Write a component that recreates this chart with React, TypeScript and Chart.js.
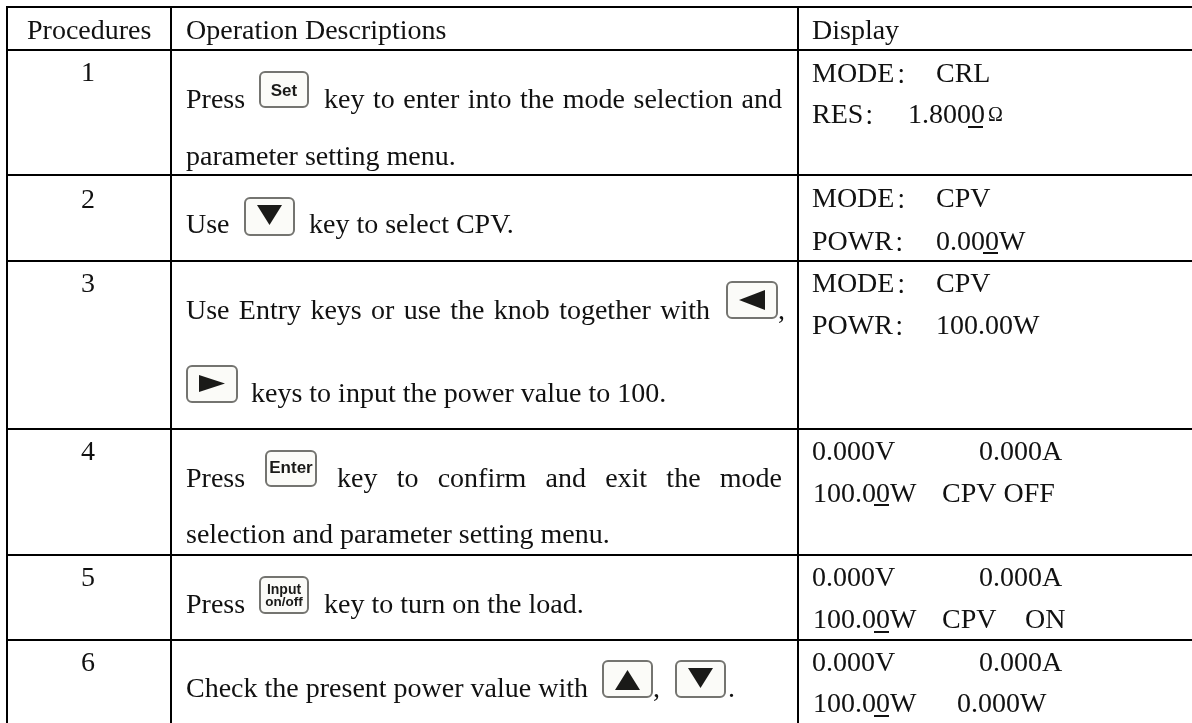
import React, { useEffect, useRef } from "react";
import { Chart, registerables } from "chart.js";

Chart.register(...registerables);

const columnEdges = [7, 171, 798];
const rowEdges = [7, 50, 175, 261, 429, 555, 640];

const SERIF = '"Liberation Serif", "Noto Sans CJK SC", serif';
const SANS = '"Liberation Sans", sans-serif';
const FONT_SIZE = 28;
const COLON_SIZE = 21;

const headers = ["Procedures", "Operation Descriptions", "Display"];
const procedureNumbers = ["1", "2", "3", "4", "5", "6"];
const numberBaselines = [81, 208, 292, 460, 586, 671];

type Run = { t: string; x: number; y: number; right?: number; size?: number; font?: string };

const descriptionRuns: Run[] = [
  { t: "Press", x: 186, y: 108 },
  { t: "key to enter into the mode selection and", x: 324, y: 108, right: 782 },
  { t: "parameter setting menu.", x: 186, y: 164.5 },
  { t: "Use", x: 186, y: 233 },
  { t: "key to select CPV.", x: 309, y: 233 },
  { t: "Use Entry keys or use the knob together with", x: 186, y: 319, right: 710 },
  { t: ",", x: 778, y: 319 },
  { t: "keys to input the power value to 100.", x: 251, y: 402 },
  { t: "Press", x: 186, y: 487 },
  { t: "key to confirm and exit the mode", x: 337, y: 487, right: 782 },
  { t: "selection and parameter setting menu.", x: 186, y: 543 },
  { t: "Press", x: 186, y: 613 },
  { t: "key to turn on the load.", x: 324, y: 613 },
  { t: "Check the present power value with", x: 186, y: 697 },
  { t: ",", x: 653, y: 697 },
  { t: ".", x: 728, y: 697 },
];

const displayRuns: Run[] = [
  { t: "MODE", x: 812, y: 82 },
  { t: "：", x: 896, y: 82, size: COLON_SIZE },
  { t: "CRL", x: 936, y: 82 },
  { t: "RES", x: 812, y: 123 },
  { t: "：", x: 864, y: 123, size: COLON_SIZE },
  { t: "1.8000", x: 908, y: 123 },
  { t: "Ω", x: 988, y: 121, size: 20 },
  { t: "MODE", x: 812, y: 207 },
  { t: "：", x: 896, y: 207, size: COLON_SIZE },
  { t: "CPV", x: 936, y: 207 },
  { t: "POWR", x: 812, y: 250 },
  { t: "：", x: 894, y: 250, size: COLON_SIZE },
  { t: "0.000W", x: 936, y: 250 },
  { t: "MODE", x: 812, y: 292 },
  { t: "：", x: 896, y: 292, size: COLON_SIZE },
  { t: "CPV", x: 936, y: 292 },
  { t: "POWR", x: 812, y: 334 },
  { t: "：", x: 894, y: 334, size: COLON_SIZE },
  { t: "100.00W", x: 936, y: 334 },
  { t: "0.000V", x: 812, y: 460 },
  { t: "0.000A", x: 979, y: 460 },
  { t: "100.00W", x: 813, y: 502 },
  { t: "CPV OFF", x: 942, y: 502 },
  { t: "0.000V", x: 812, y: 586 },
  { t: "0.000A", x: 979, y: 586 },
  { t: "100.00W", x: 813, y: 628 },
  { t: "CPV", x: 942, y: 628 },
  { t: "ON", x: 1025, y: 628 },
  { t: "0.000V", x: 812, y: 671 },
  { t: "0.000A", x: 979, y: 671 },
  { t: "100.00W", x: 813, y: 712 },
  { t: "0.000W", x: 957, y: 712 },
];

const underlines = [
  [968, 983, 127],
  [983, 998, 253],
  [874, 889, 505],
  [874, 889, 632],
  [874, 889, 716],
];

type Key = { x0: number; x1: number; y0: number; y1: number; labels?: [string, number, number][]; tri?: number[] };

const keys: Key[] = [
  { x0: 260, x1: 308, y0: 72, y1: 107, labels: [["Set", 17, 96]] },
  { x0: 245, x1: 294, y0: 198, y1: 235, tri: [257, 205, 282, 205, 269.5, 225] },
  { x0: 727, x1: 777, y0: 282, y1: 318, tri: [765, 290, 765, 310, 739, 300] },
  { x0: 187, x1: 237, y0: 366, y1: 402, tri: [199, 375, 199, 392, 225, 383.5] },
  { x0: 266, x1: 316, y0: 451, y1: 486, labels: [["Enter", 17, 473]] },
  { x0: 260, x1: 308, y0: 577, y1: 613, labels: [["Input", 14, 594], ["on/off", 13.5, 606]] },
  { x0: 603, x1: 652, y0: 661, y1: 697, tri: [615, 690, 640, 690, 627.5, 670] },
  { x0: 676, x1: 725, y0: 661, y1: 697, tri: [688, 668, 713, 668, 700.5, 688] },
];

const tablePlugin = {
  id: "tableContent",
  afterDraw(chart: any) {
    const { ctx, scales } = chart;
    const px = (v: number) => scales.x.getPixelForValue(v);
    const py = (v: number) => scales.y.getPixelForValue(v);
    ctx.save();
    ctx.textBaseline = "alphabetic";
    ctx.fillStyle = "#111";

    const drawRun = (r: Run) => {
      ctx.font = `${r.size ?? FONT_SIZE}px ${r.font ?? SERIF}`;
      ctx.textAlign = "left";
      ctx.wordSpacing = "0px";
      if (r.right !== undefined) {
        const spaces = r.t.split(" ").length - 1;
        const extra = (px(r.right) - px(r.x) - ctx.measureText(r.t).width) / spaces;
        ctx.wordSpacing = `${extra}px`;
      }
      ctx.fillText(r.t, px(r.x), py(r.y));
      ctx.wordSpacing = "0px";
    };

    [27, 186, 812].forEach((x, i) => drawRun({ t: headers[i], x, y: 39 }));
    procedureNumbers.forEach((n, i) => {
      ctx.font = `${FONT_SIZE}px ${SERIF}`;
      ctx.textAlign = "center";
      ctx.fillText(n, px(88), py(numberBaselines[i]));
    });
    descriptionRuns.forEach(drawRun);
    displayRuns.forEach(drawRun);

    ctx.strokeStyle = "#111";
    ctx.lineWidth = 2;
    underlines.forEach(([a, b, y]) => {
      ctx.beginPath();
      ctx.moveTo(px(a), py(y));
      ctx.lineTo(px(b), py(y));
      ctx.stroke();
    });

    keys.forEach((k) => {
      ctx.beginPath();
      ctx.roundRect(px(k.x0), py(k.y0), px(k.x1) - px(k.x0), py(k.y1) - py(k.y0), 5);
      ctx.fillStyle = "#fbfbf8";
      ctx.fill();
      ctx.strokeStyle = "#747470";
      ctx.lineWidth = 2;
      ctx.stroke();
      ctx.fillStyle = "#1a1a18";
      if (k.tri) {
        ctx.beginPath();
        ctx.moveTo(px(k.tri[0]), py(k.tri[1]));
        ctx.lineTo(px(k.tri[2]), py(k.tri[3]));
        ctx.lineTo(px(k.tri[4]), py(k.tri[5]));
        ctx.closePath();
        ctx.fill();
      }
      (k.labels ?? []).forEach(([t, size, y]) => {
        ctx.font = `bold ${size}px ${SANS}`;
        ctx.textAlign = "center";
        ctx.fillText(t, px((k.x0 + k.x1) / 2), py(y));
      });
    });
    ctx.restore();
  },
};

export default function App() {
  const ref = useRef<HTMLCanvasElement>(null);
  useEffect(() => {
    const chart = new Chart(ref.current!, {
      type: "scatter",
      data: { datasets: [{ data: [], pointRadius: 0 }] },
      plugins: [tablePlugin],
      options: {
        animation: false,
        responsive: false,
        layout: { padding: { top: 6, left: 6 } },
        plugins: { legend: { display: false }, tooltip: { enabled: false }, title: { display: false } },
        scales: {
          x: {
            type: "linear",
            min: 6,
            max: 1192,
            afterBuildTicks: (s: any) => {
              s.ticks = columnEdges.map((value) => ({ value }));
            },
            ticks: { display: false },
            border: { display: false },
            grid: { color: "#000", lineWidth: 2, drawTicks: false },
          },
          y: {
            type: "linear",
            min: 6,
            max: 723,
            reverse: true,
            afterBuildTicks: (s: any) => {
              s.ticks = rowEdges.map((value) => ({ value }));
            },
            ticks: { display: false },
            border: { display: false },
            grid: { color: "#000", lineWidth: 2, drawTicks: false },
          },
        },
      },
    } as any);
    return () => chart.destroy();
  }, []);
  return (
    <canvas
      ref={ref}
      width={1192}
      height={723}
      style={{ position: "absolute", left: 0, top: 0, display: "block" }}
    />
  );
}
